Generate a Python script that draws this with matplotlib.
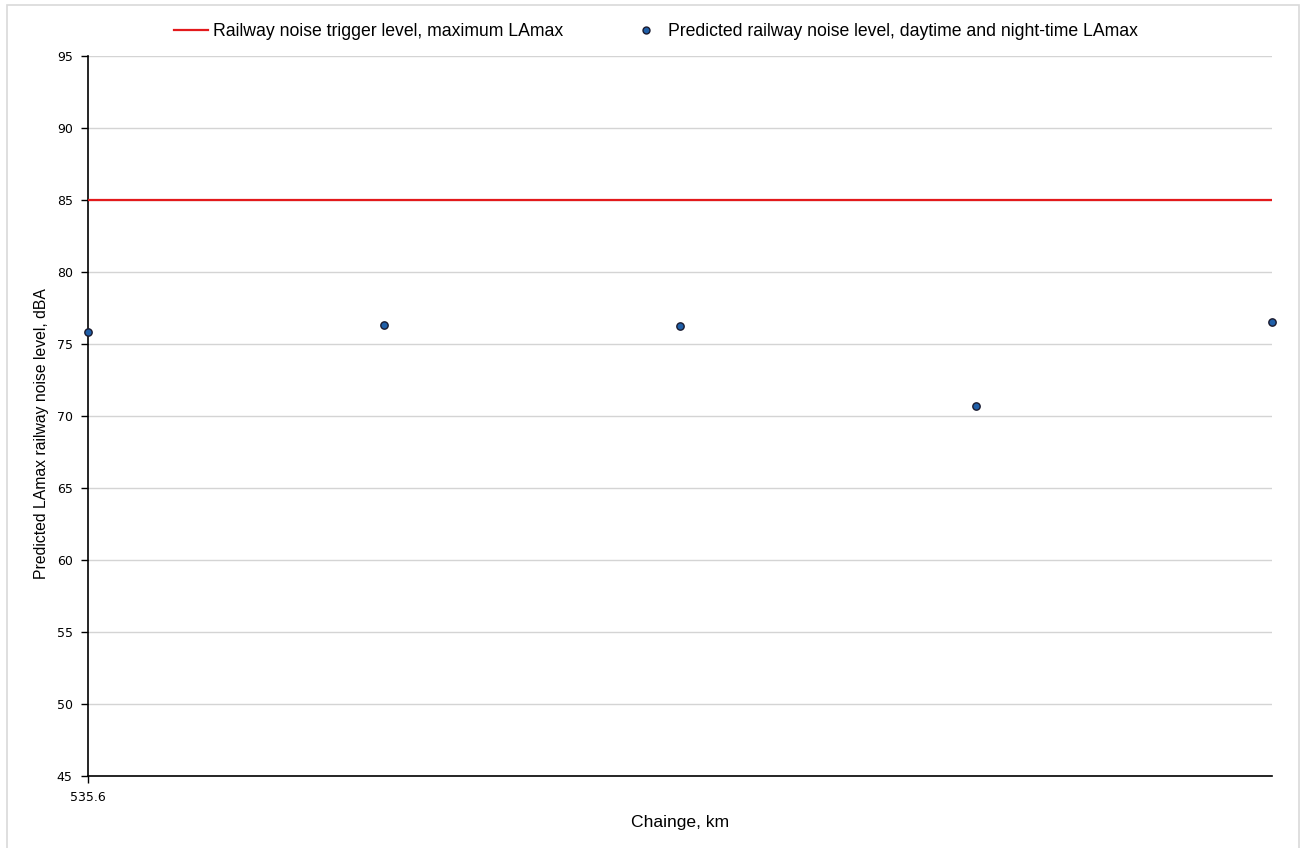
import matplotlib.pyplot as plt
from matplotlib.lines import Line2D
from matplotlib.patches import Rectangle

chainage = [535.6, 535.7, 535.8, 535.9, 536.0]
predicted = [75.85, 76.35, 76.25, 70.7, 76.5]
trigger = 85
yticks = [45, 50, 55, 60, 65, 70, 75, 80, 85, 90, 95]

W, H = 1301, 848
fig = plt.figure(figsize=(W / 100, H / 100), dpi=100)
ax = fig.add_axes([88 / W, 1 - 776 / H, (1272 - 88) / W, (776 - 56) / H])

# light frame around the whole chart
fig.patches.append(Rectangle((7 / W, -0.01), (1299 - 7) / W, 1 - 5 / H + 0.01,
                             transform=fig.transFigure, fill=False,
                             edgecolor='#d9d9d9', linewidth=1.2))

ax.axhline(trigger, color='#e31a1c', linewidth=1.6, zorder=3)
ax.scatter(chainage, predicted, s=28, color='#1f5fa8', edgecolors='#1a1a2e',
           linewidths=1.0, zorder=4, clip_on=False)

ax.set_xlim(chainage[0], chainage[-1])
ax.set_ylim(45, 95)
ax.set_yticks(yticks)
ax.set_xticks([chainage[0]])
ax.set_xticklabels(['535.6'])
ax.tick_params(axis='both', direction='out', length=5, width=1, color='black',
               labelsize=9, pad=6)
for lab in ax.get_xticklabels() + ax.get_yticklabels():
    lab.set_fontfamily('DejaVu Sans')

ax.grid(axis='y', color='#d4d4d4', linewidth=1)
ax.set_axisbelow(True)
for s in ['top', 'right']:
    ax.spines[s].set_visible(False)
for s in ['left', 'bottom']:
    ax.spines[s].set_color('black')
    ax.spines[s].set_linewidth(1.2)

fig.text(42 / W, 1 - 434 / H, 'Predicted LAmax railway noise level, dBA',
         rotation=90, ha='center', va='center', fontsize=11.3,
         fontfamily='Liberation Sans')
fig.text(680 / W, 1 - 823 / H, 'Chainge, km', ha='center', va='center',
         fontsize=12.6, fontfamily='Liberation Sans')

handles = [
    Line2D([], [], color='#e31a1c', linewidth=1.6),
    Line2D([], [], marker='o', linestyle='none', markersize=5,
           markerfacecolor='#1f5fa8', markeredgecolor='#1a1a2e'),
]
labels = ['Railway noise trigger level, maximum LAmax',
          'Predicted railway noise level, daytime and night-time LAmax']
fig.legend(handles, labels, loc='center', bbox_to_anchor=(656 / W, 1 - 32 / H),
           ncol=2, frameon=False, prop={'family': 'Liberation Sans', 'size': 12.7},
           handlelength=1.9, handletextpad=0.3, columnspacing=3.7,
           borderpad=0, borderaxespad=0)

fig.savefig('out.png', dpi=100)
